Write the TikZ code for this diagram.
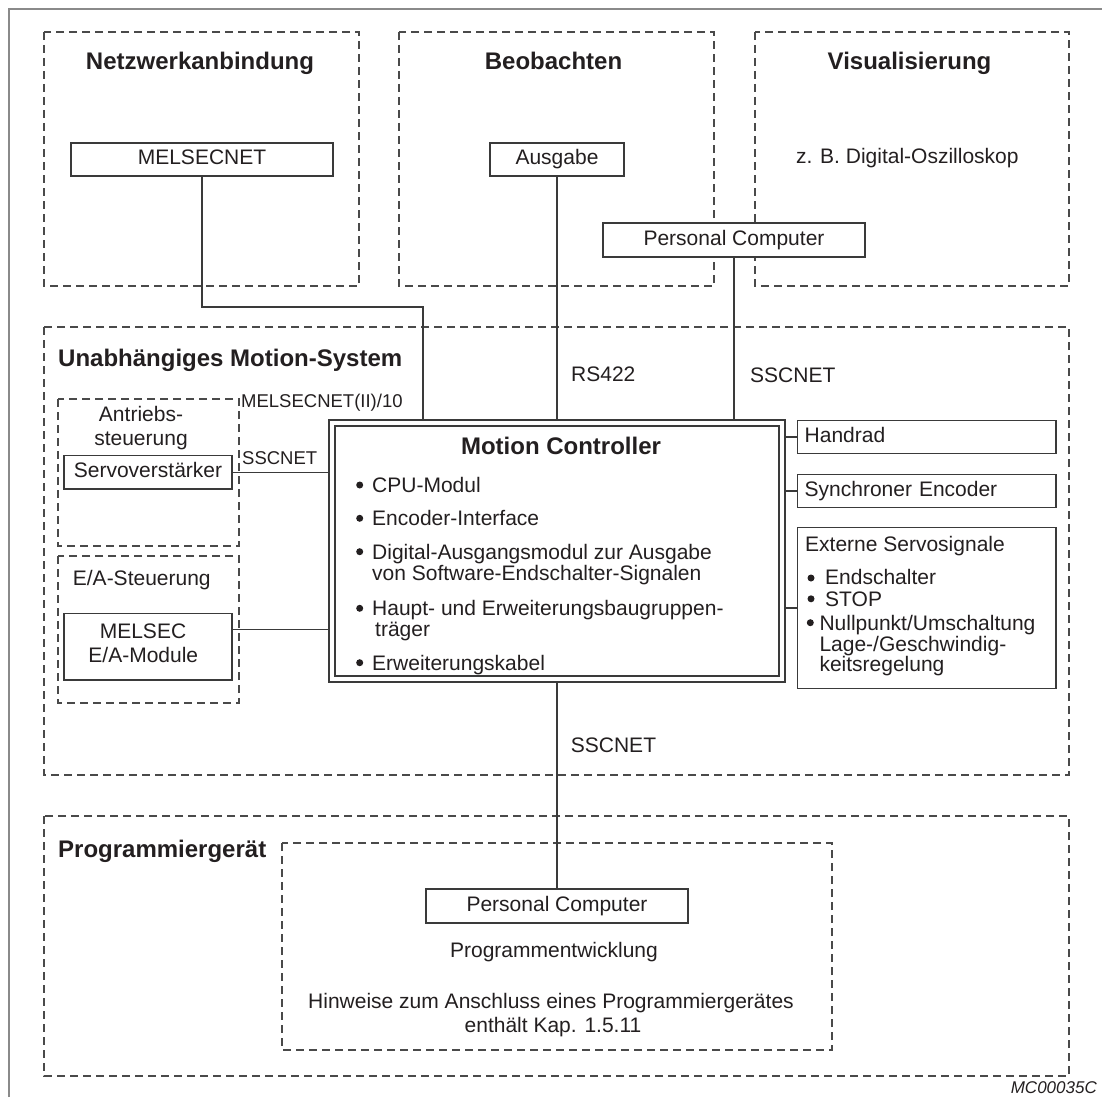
\documentclass[tikz,border=0pt]{standalone}
\usepackage{fontspec}
\setmainfont{Liberation Sans}
\definecolor{ink}{HTML}{231F20}
\definecolor{edge}{HTML}{3A3A3A}
\definecolor{dashc}{HTML}{4A4A4A}
\definecolor{framec}{HTML}{8A8A8A}
\begin{document}
\begin{tikzpicture}[x=1pt,y=-1pt,
  txt/.style={inner sep=0pt, font=\fontsize{21}{25}\selectfont, text=ink},
  smalltxt/.style={inner sep=0pt, font=\fontsize{18.5}{22}\selectfont, text=ink},
  ttl/.style={inner sep=0pt, font=\fontsize{24}{28}\selectfont\bfseries, text=ink},
  box/.style={draw=edge, fill=white, line width=1.4pt, inner sep=0pt,
    font=\fontsize{21}{25}\selectfont, text=ink, text height=15pt, text depth=4.4pt},
  lbox/.style={box, align=left, inner xsep=7pt},
  group/.style={draw=dashc, line width=1.1pt, dash pattern=on 8pt off 5pt},
  wire/.style={draw=edge, line width=1.4pt},
  dot/.style={circle, fill=ink, inner sep=0pt, minimum size=7pt},
]
\useasboundingbox (0,0) rectangle (1102,1097);

% page frame (top and left edge only)
\draw[framec, line width=1.8pt] (9,1097) -- (9,9) -- (1102,9);

% dashed groups
\draw[group] (44,32) rectangle (359,286);
\draw[group] (399,32) rectangle (714,286);
\draw[group] (755,32) rectangle (1069,286);
\draw[group] (44,327) rectangle (1069,775);
\draw[group] (58,399) rectangle (239,546);
\draw[group] (58,556) rectangle (239,703);
\draw[group] (44,816) rectangle (1069,1076);
\draw[group] (282,843) rectangle (832,1050);

% group titles
\node[ttl, anchor=base] (tnet) at (200,70) {Netzwerkanbindung};
\node[ttl, anchor=base] (tobs) at (553.5,70) {Beobachten};
\node[ttl, anchor=base] (tvis) at (909.5,70) {Visualisierung};
\node[ttl, anchor=base west] (tsys) at (58,366.7) {Unabhängiges Motion-System};
\node[ttl, anchor=base west] (tpg) at (58,857.3) {Programmiergerät};

% top row
\node[box, minimum width=262pt, minimum height=33pt] (melnet) at (202,159.5) {MELSECNET};
\node[box, minimum width=134pt, minimum height=33pt] (ausg) at (557,159.5) {Ausgabe};
\node[txt, anchor=base] (oszi) at (907.3,163.3) {z. B. Digital-Oszilloskop};
\node[box, minimum width=262pt, minimum height=34pt] (pctop) at (734,240) {Personal Computer};

% motion controller (double frame)
\node[box, minimum width=456pt, minimum height=262pt] (mc) at (557,551) {};
\draw[wire] ([shift={(6.7,6.7)}]mc.north west) rectangle ([shift={(-6.7,-6.7)}]mc.south east);
\node[ttl, anchor=base] (mctitle) at (561,454) {Motion Controller};
\node[dot] (d1) at (359.7,485) {};
\node[txt, anchor=base west] (i1) at (372,492.5) {CPU-Modul};
\node[dot] (d2) at (359.7,518.3) {};
\node[txt, anchor=base west] (i2) at (372,525.8) {Encoder-Interface};
\node[dot] (d3) at (359.7,551.7) {};
\node[txt, anchor=base west] (i3a) at (372,559.2) {Digital-Ausgangsmodul zur Ausgabe};
\node[txt, anchor=base west] (i3b) at (372,580.8) {von Software-Endschalter-Signalen};
\node[dot] (d4) at (359.7,608.3) {};
\node[txt, anchor=base west] (i4a) at (372,615.8) {Haupt- und Erweiterungsbaugruppen-};
\node[txt, anchor=base west] (i4b) at (375,636.8) {träger};
\node[dot] (d5) at (359.7,662.7) {};
\node[txt, anchor=base west] (i5) at (372,670.2) {Erweiterungskabel};

% left side
\node[txt, anchor=base] (antr1) at (141,421.6) {Antriebs-};
\node[txt, anchor=base] (antr2) at (141,445.5) {steuerung};
\node[box, minimum width=168pt, minimum height=33.3pt] (servo) at (148,472.3) {Servoverstärker};
\node[txt, anchor=base west] (eas) at (72.7,585.7) {E/A-Steuerung};
\node[box, minimum width=168pt, minimum height=66.7pt] (melsec) at (148,646.7) {};
\node[txt, anchor=base] (ms1) at (143,638.3) {MELSEC};
\node[txt, anchor=base] (ms2) at (143.3,662.7) {E/A-Module};

% right side
\node[lbox, text width=244.3pt, minimum width=258.3pt, minimum height=32.6pt] (hand) at (926.8,437) {Handrad};
\node[lbox, text width=244.3pt, minimum width=258.3pt, minimum height=33pt] (sync) at (926.8,490.8) {Synchroner Encoder};
\node[box, minimum width=258.3pt, minimum height=160.6pt] (ext) at (926.8,608) {};
\node[txt, anchor=base west] (e0) at (805,551.7) {Externe Servosignale};
\node[dot] (ed1) at (811,578) {};
\node[txt, anchor=base west] (e1) at (825,584.3) {Endschalter};
\node[dot] (ed2) at (811,598.8) {};
\node[txt, anchor=base west] (e2) at (825,606) {STOP};
\node[dot] (ed3) at (810.3,622.7) {};
\node[txt, anchor=base west] (e3a) at (819.3,630) {Nullpunkt/Umschaltung};
\node[txt, anchor=base west] (e3b) at (819.3,651.7) {Lage-/Geschwindig-};
\node[txt, anchor=base west] (e3c) at (819.3,671.7) {keitsregelung};

% connection labels
\node[smalltxt, anchor=base west] (lmn) at (241,407) {MELSECNET(II)/10};
\node[smalltxt, anchor=base west] (lss1) at (242,464) {SSCNET};
\node[txt, anchor=base west] (lrs) at (571,381) {RS422};
\node[txt, anchor=base west] (lss2) at (750,382) {SSCNET};
\node[txt, anchor=base west] (lss3) at (570.7,752.7) {SSCNET};

% programming unit
\node[box, minimum width=262pt, minimum height=34pt] (pcbot) at (557,906) {Personal Computer};
\node[txt, anchor=base] (dev) at (554,957) {Programmentwicklung};
\node[txt, anchor=base] (hint1) at (551,1008.3) {Hinweise zum Anschluss eines Programmiergerätes};
\node[txt, anchor=base] (hint2) at (553,1032.7) {enthält Kap. 1.5.11};

\node[inner sep=0pt, font=\fontsize{17}{20}\selectfont\itshape, text=ink, anchor=base east] (code) at (1097,1093) {MC00035C};

% connections
\coordinate (bend) at (423,307);
\draw[wire] (melnet.south) |- (bend) -- (bend |- mc.north);
\draw[wire] (ausg.south) -- (ausg.south |- mc.north);
\draw[wire] (pctop.south) -- (pctop.south |- mc.north);
\draw[wire] (mc.south) -- (pcbot.north);
\draw[wire] (servo.east) -- (servo.east -| mc.west);
\draw[wire] ([yshift=17.4pt]melsec.east) -- ([yshift=17.4pt]melsec.east -| mc.west);
\draw[wire] (hand.west) -- (hand.west -| mc.east);
\draw[wire] (sync.west) -- (sync.west -| mc.east);
\draw[wire] (ext.west) -- (ext.west -| mc.east);
\end{tikzpicture}
\end{document}
